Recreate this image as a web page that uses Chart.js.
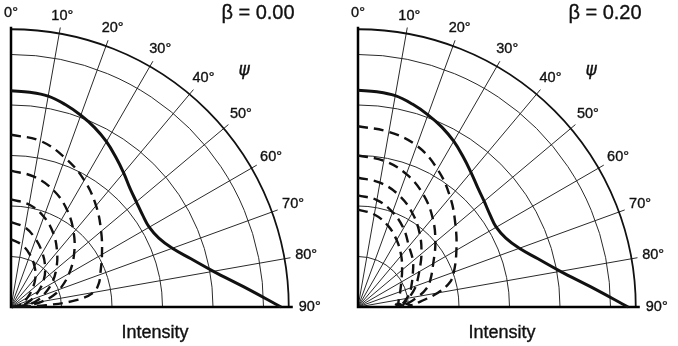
<!DOCTYPE html>
<html>
<head>
<meta charset="utf-8">
<script src="https://cdn.jsdelivr.net/npm/chart.js@4.4.0/dist/chart.umd.min.js"></script>
<style>
  body { margin: 0; background: #fff; }
  .wrap { position: relative; width: 678px; height: 346px; }
  canvas { position: absolute; top: 0; }
</style>
</head>
<body>
<div class="wrap">
  <canvas id="leftChart" width="331" height="346" style="left:0px"></canvas>
  <canvas id="rightChart" width="331" height="346" style="left:347px"></canvas>
</div>
<script>
// polar grid
const gridRadii = [1, 2, 3, 4, 5];
const outerRadius = 5.5;
const spokeAngles = [0, 10, 20, 30, 40, 50, 60, 70, 80, 90];
const angleLabels = ['0°', '10°', '20°', '30°', '40°', '50°', '60°', '70°', '80°', '90°'];

// solid curve (angle in degrees, intensity)
const solidAngles = [0, 5, 10, 15, 20, 25, 30, 35, 40, 45, 50, 55, 60, 65, 70, 75, 80, 85, 90];
const solidLeft = [4.28, 4.27, 4.24, 4.15, 4.04, 3.92, 3.78, 3.62, 3.47, 3.33, 3.24, 3.18, 3.16, 3.23, 3.40, 3.69, 4.07, 4.62, 5.35];
const solidRight = [4.29, 4.28, 4.25, 4.16, 4.05, 3.93, 3.79, 3.63, 3.48, 3.35, 3.26, 3.19, 3.16, 3.23, 3.40, 3.69, 4.07, 4.62, 5.35];

// dashed curves, beta = 0.00
const leftDashAngles = [0, 10, 20, 30, 40, 50, 60, 70, 75, 80, 84, 87, 89];
const leftDash1 = [3.41, 3.34, 3.14, 2.90, 2.62, 2.33, 2.08, 1.88, 1.80, 1.66, 1.30, 0.70, 0.08];
const leftDash2 = [2.70, 2.62, 2.46, 2.22, 1.93, 1.63, 1.33, 1.03, 0.86, 0.62, 0.40, 0.22, 0.05];
const leftDash3 = [2.13, 2.06, 1.90, 1.68, 1.42, 1.17, 0.93, 0.68, 0.56, 0.42, 0.28, 0.15, 0.03];
const leftDash4 = [1.68, 1.60, 1.43, 1.24, 1.05, 0.85, 0.63, 0.43, 0.34, 0.26, 0.17, 0.09, 0.02];
const leftDash5 = [1.34, 1.25, 1.10, 0.93, 0.75, 0.55, 0.38, 0.26, 0.20, 0.15, 0.10, 0.05, 0.01];

// dashed curves, beta = 0.20 (last point is the small hook)
const rightDashAngles = [0, 10, 20, 30, 40, 50, 60, 70, 75, 80, 85, 88, 85];
const rightDash1 = [3.58, 3.52, 3.40, 3.15, 2.84, 2.52, 2.25, 2.02, 1.88, 1.60, 1.24, 1.06, 0.92];
const rightDash2 = [3.00, 2.94, 2.80, 2.58, 2.30, 2.00, 1.72, 1.52, 1.40, 1.22, 1.02, 0.92, 0.80];
const rightDash3 = [2.56, 2.50, 2.36, 2.15, 1.90, 1.64, 1.40, 1.22, 1.12, 1.02, 0.92, 0.88, 0.78];
const rightDash4 = [2.21, 2.15, 2.00, 1.80, 1.57, 1.42, 1.25, 1.12, 1.06, 0.98, 0.90, 0.86, 0.76];
const rightDash5 = [1.93, 1.86, 1.72, 1.53, 1.33, 1.14, 0.99, 0.89, 0.85, 0.82, 0.80, 0.80, 0.73];

const FONT = '"Liberation Sans", Arial, sans-serif';

function toXY(angles, radii) { // polar -> cartesian, angle measured from the vertical axis
  return radii.map((r, i) => {
    const a = angles[i] * Math.PI / 180;
    return { x: r * Math.sin(a), y: r * Math.cos(a) };
  });
}

function heavyText(ctx, txt, x, y) { // scanned labels look a bit heavier than plain text
  ctx.fillText(txt, x, y);
  ctx.strokeText(txt, x, y);
}

const polarGrid = {
  id: 'polarGrid',
  beforeDatasetsDraw(chart) {
    const ctx = chart.ctx;
    const xs = chart.scales.x, ys = chart.scales.y;
    const ox = xs.getPixelForValue(0), oy = ys.getPixelForValue(0);
    const px = (r, deg) => [xs.getPixelForValue(r * Math.sin(deg * Math.PI / 180)),
                            ys.getPixelForValue(r * Math.cos(deg * Math.PI / 180))];
    ctx.save();
    ctx.strokeStyle = '#2a2a2a';
    ctx.lineWidth = 1;
    gridRadii.forEach(r => {
      ctx.beginPath();
      ctx.arc(ox, oy, xs.getPixelForValue(r) - ox, -Math.PI / 2, 0);
      ctx.stroke();
    });
    spokeAngles.slice(1, -1).forEach(a => {
      const [x, y] = px(5.62, a);
      ctx.beginPath();
      ctx.moveTo(ox, oy);
      ctx.lineTo(x, y);
      ctx.stroke();
    });
    ctx.strokeStyle = '#111';
    ctx.lineWidth = 1.8;
    ctx.beginPath();
    ctx.arc(ox, oy, xs.getPixelForValue(outerRadius) - ox, -Math.PI / 2, 0);
    ctx.stroke();
    // axes
    ctx.strokeStyle = '#000';
    ctx.lineWidth = 2.5;
    ctx.beginPath();
    ctx.moveTo(ox, ys.getPixelForValue(5.55));
    ctx.lineTo(ox, oy);
    ctx.lineTo(xs.getPixelForValue(5.58), oy);
    ctx.stroke();
    ctx.restore();
  },
  afterDraw(chart, args, opts) {
    const ctx = chart.ctx;
    const xs = chart.scales.x, ys = chart.scales.y;
    const ox = xs.getPixelForValue(0), oy = ys.getPixelForValue(0);
    ctx.save();
    ctx.fillStyle = '#111';
    ctx.strokeStyle = '#111';
    ctx.lineWidth = 0.35;
    ctx.textAlign = 'center';
    ctx.textBaseline = 'middle';
    ctx.font = '14.5px ' + FONT;
    spokeAngles.forEach((a, i) => {
      const rad = a * Math.PI / 180;
      const w = ctx.measureText(angleLabels[i]).width;
      const tip = xs.getPixelForValue(5.62) - ox;
      const d = tip + (w / 2) * Math.sin(rad) + 6 * Math.cos(rad) + 4;
      heavyText(ctx, angleLabels[i], ox + d * Math.sin(rad), oy - d * Math.cos(rad));
    });
    ctx.font = '20px ' + FONT;
    heavyText(ctx, opts.title, ox + 247, 13);
    ctx.font = 'italic 17px "DejaVu Sans", sans-serif';
    heavyText(ctx, 'ψ', ox + 233, 71);
    ctx.font = '18px ' + FONT;
    heavyText(ctx, 'Intensity', ox + 144, 333);
    ctx.restore();
  }
};

function makeChart(id, title, solid, dashAngles, dashes) {
  const datasets = [{
    data: toXY(solidAngles, solid),
    showLine: true,
    borderColor: '#111',
    borderWidth: 3,
    tension: 0.4,
    pointRadius: 0,
    clip: false
  }];
  dashes.forEach(d => datasets.push({
    data: toXY(dashAngles, d),
    showLine: true,
    borderColor: '#111',
    borderWidth: 2.4,
    borderDash: [10, 6],
    tension: 0.4,
    pointRadius: 0,
    clip: false
  }));
  return new Chart(document.getElementById(id), {
    type: 'scatter',
    data: { datasets: datasets },
    options: {
      responsive: false,
      animation: false,
      devicePixelRatio: 1,
      layout: { padding: { left: 11, right: 17, top: 4, bottom: 39 } },
      scales: {
        x: { type: 'linear', min: 0, max: 6, display: false },
        y: { type: 'linear', min: 0, max: 6, display: false }
      },
      plugins: {
        legend: { display: false },
        tooltip: { enabled: false },
        polarGrid: { title: title }
      }
    },
    plugins: [polarGrid]
  });
}

makeChart('leftChart', 'β = 0.00', solidLeft, leftDashAngles,
  [leftDash1, leftDash2, leftDash3, leftDash4, leftDash5]);
makeChart('rightChart', 'β = 0.20', solidRight, rightDashAngles,
  [rightDash1, rightDash2, rightDash3, rightDash4, rightDash5]);
</script>
</body>
</html>
